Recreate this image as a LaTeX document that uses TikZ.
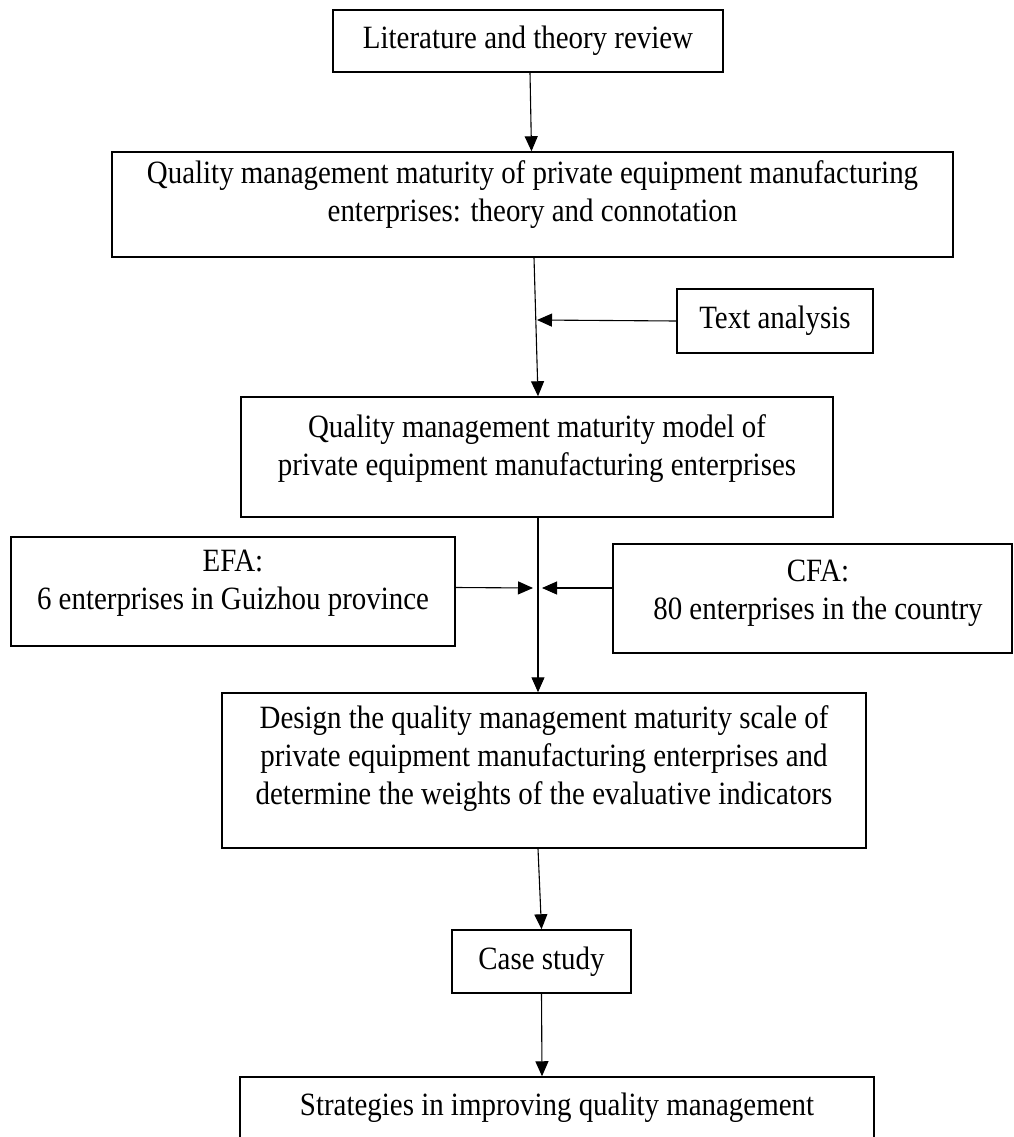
\documentclass[tikz,border=0pt]{standalone}
\usepackage{fontspec}
\setmainfont{Liberation Serif}[FakeStretch=0.89]
\usetikzlibrary{arrows.meta}
\begin{document}
\begin{tikzpicture}[x=1pt,y=-1pt,
  box/.style={draw, line width=1.5pt, inner sep=0pt, font=\fontsize{32.5}{38}\selectfont},
  txt/.style={inner sep=0pt, align=center, font=\fontsize{32.5}{38}\selectfont},
  arr/.style={line width=1.1pt, -{Triangle[length=15pt,width=13pt]}}]
\useasboundingbox (0,0) rectangle (1013,1137);
\clip (0,0) rectangle (1013,1137);

% boxes
\node[box, minimum width=390pt, minimum height=62pt] (b1) at (528,41) {Literature and theory review};

\node[box, minimum width=841pt, minimum height=105pt] (b2) at (532.5,204.5) {};
\node[txt] (b2t) at (532.5,194.5) {Quality management maturity of private equipment manufacturing\\enterprises: theory and connotation};

\node[box, minimum width=196pt, minimum height=64pt] (ta) at (775,321) {Text analysis};

\node[box, minimum width=592pt, minimum height=120pt] (b4) at (537,457) {};
\node[txt] (b4t) at (537,448.5) {Quality management maturity model of\\private equipment manufacturing enterprises};

\node[box, minimum width=444pt, minimum height=109pt] (efa) at (233,591.5) {};
\node[txt] (efat) at (233,583.5) {EFA:\\6 enterprises in Guizhou province};

\node[box, minimum width=399pt, minimum height=109pt] (cfa) at (812.5,598.5) {};
\node[txt] (cfat) at (818,593.5) {CFA:\\80 enterprises in the country};

\node[box, minimum width=644pt, minimum height=155pt] (b7) at (544,770.5) {};
\node[txt] (b7t) at (544,758.5) {Design the quality management maturity scale of\\private equipment manufacturing enterprises and\\determine the weights of the evaluative indicators};

\node[box, minimum width=179pt, minimum height=63pt] (cs) at (541.5,961.5) {Case study};

\node[box, minimum width=634pt, minimum height=90pt] (st) at (557,1122) {};
\node[txt] (stt) at (557,1108) {Strategies in improving quality management};

% junction points on the main flow line
\coordinate (j1) at (537,320);
\coordinate (j2) at (533,588);
\coordinate (j3) at (542,588);

% connectors
\draw[arr] ([xshift=2pt]b1.south) -- ([xshift=-1pt]b2.north);
\draw[arr] ([xshift=1.5pt]b2.south) -- ([xshift=1pt]b4.north);
\draw[arr] (ta.west) -- (j1);
\draw[arr] ([xshift=1pt]b4.south) -- ([xshift=-6pt]b7.north);
\draw[arr] ([yshift=4pt]efa.east) -- (j2);
\draw[arr] ([yshift=10.5pt]cfa.west) -- (j3);
\draw[arr] ([xshift=-6pt]b7.south) -- (cs.north);
\draw[arr] (cs.south) -- ([xshift=-15pt]st.north);
\end{tikzpicture}
\end{document}
